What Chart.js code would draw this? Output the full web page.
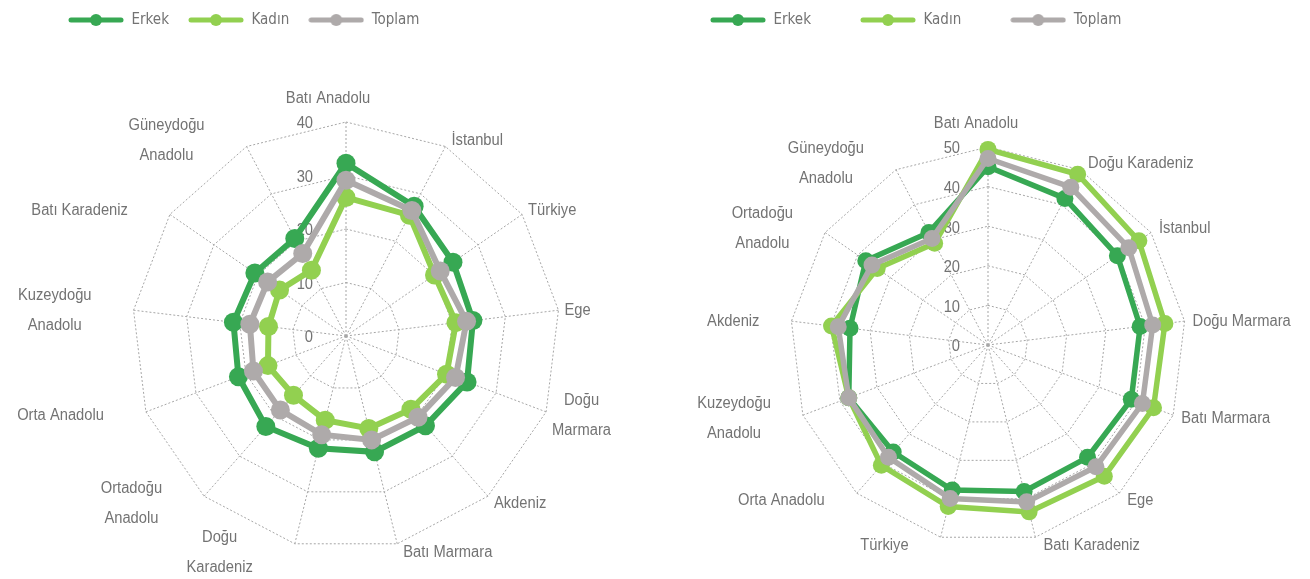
<!DOCTYPE html>
<html lang="tr">
<head>
<meta charset="UTF-8">
<title>Erkek / Kadın / Toplam</title>
<script src="https://cdn.jsdelivr.net/npm/chart.js"></script>
<style>
    body { margin: 0; background: #fff; }
    .wrap { display: flex; width: 1310px; height: 579px; }
    .box { position: relative; width: 655px; height: 579px; }
</style>
</head>
<body>
<div class="wrap">
    <div class="box"><canvas id="leftChart"></canvas></div>
    <div class="box"><canvas id="rightChart"></canvas></div>
</div>
<script>
    // sol grafik
    const leftLabels = ['Batı Anadolu', 'İstanbul', 'Türkiye', 'Ege', ['Doğu', 'Marmara'], 'Akdeniz', 'Batı Marmara',
        ['Doğu', 'Karadeniz'], ['Ortadoğu', 'Anadolu'], 'Orta Anadolu', ['Kuzeydoğu', 'Anadolu'], 'Batı Karadeniz',
        ['Güneydoğu', 'Anadolu']];
    const leftErkek = [32.3, 27.4, 24.3, 23.9, 24.2, 22.4, 22.3, 21.6, 22.6, 21.5, 21.2, 20.7, 20.6];
    const leftKadin = [25.9, 25.5, 20.1, 20.7, 20.1, 18.3, 17.8, 16.2, 14.8, 15.6, 14.6, 15.1, 13.9];
    const leftToplam = [29.1, 26.5, 21.4, 22.7, 21.9, 20.3, 20.0, 19.0, 18.5, 18.5, 18.1, 17.8, 17.4];
    const leftTicks = [0, 10, 20, 30, 40];

    // sağ grafik
    const rightLabels = ['Batı Anadolu', 'Doğu Karadeniz', 'İstanbul', 'Doğu Marmara', 'Batı Marmara', 'Ege',
        'Batı Karadeniz', 'Türkiye', 'Orta Anadolu', ['Kuzeydoğu', 'Anadolu'], 'Akdeniz', ['Ortadoğu', 'Anadolu'],
        ['Güneydoğu', 'Anadolu']];
    const rightErkek = [45.0, 41.8, 39.7, 38.7, 38.7, 37.9, 38.1, 37.7, 36.1, 37.6, 35.1, 37.5, 32.1];
    const rightKadin = [49.4, 48.7, 46.3, 45.0, 44.7, 44.3, 43.4, 42.0, 40.6, 37.6, 39.8, 34.0, 29.0];
    const rightToplam = [47.1, 45.0, 43.2, 41.9, 41.7, 41.1, 40.8, 39.9, 37.9, 37.6, 38.1, 35.6, 30.4];
    const rightTicks = [0, 10, 20, 30, 40, 50];

    const seriesNames = ['Erkek', 'Kadın', 'Toplam'];
    const seriesColors = ['#37a853', '#92d050', '#aeaaaa'];
    const textColor = '#737373';
    const gridColor = '#a6a6a6';
    const legendFont = '"DejaVu Sans Condensed", "Liberation Sans", sans-serif';
    const labelFont = '16px "Liberation Sans", Arial, sans-serif';
    const squeeze = 0.92; // dar yazı görünümü için

    // legend ikonu: çizgi + nokta
    function legendIcon(color) {
        const c = document.createElement('canvas');
        c.width = 56;
        c.height = 14;
        const g = c.getContext('2d');
        g.strokeStyle = color;
        g.lineWidth = 5;
        g.lineCap = 'round';
        g.beginPath();
        g.moveTo(3, 7);
        g.lineTo(53, 7);
        g.stroke();
        g.fillStyle = color;
        g.beginPath();
        g.arc(28, 7, 6, 0, Math.PI * 2);
        g.fill();
        return c;
    }

    // eksen merkezi / yarıçap ve legend yeri
    const placePlugin = {
        id: 'place',
        afterLayout(chart) {
            const o = chart.options.place;
            const r = chart.scales.r;
            r.xCenter = o.cx;
            r.yCenter = o.cy;
            r.drawingArea = o.radius;
            const lg = chart.legend;
            const p = lg.options.labels.padding;
            const fs = lg.options.labels.font.size;
            const w = lg.right - lg.left, h = lg.bottom - lg.top;
            lg.left = o.legendX - p;
            lg.right = lg.left + w;
            lg.top = o.legendY - p - fs / 2;
            lg.bottom = lg.top + h;
        }
    };

    function narrowText(ctx, t, x, y) {
        ctx.save();
        ctx.translate(x, y);
        ctx.scale(squeeze, 1);
        ctx.fillText(t, 0, 0);
        ctx.restore();
    }

    // tick ve kategori etiketleri
    const textPlugin = {
        id: 'texts',
        beforeDatasetsDraw(chart) {
            const o = chart.options.place;
            const r = chart.scales.r;
            const ctx = chart.ctx;
            ctx.save();
            ctx.fillStyle = textColor;
            ctx.font = labelFont;
            ctx.textAlign = 'right';
            ctx.textBaseline = 'middle';
            o.ticks.forEach(function (v) {
                const d = r.getDistanceFromCenterForValue(v);
                narrowText(ctx, String(v), r.xCenter - o.tickGap, r.yCenter - d + 2);
            });

            ctx.textAlign = 'center';
            const lh = 30;
            chart.data.labels.forEach(function (lab, i) {
                const lines = Array.isArray(lab) ? lab : [lab];
                const p = r.getPointPosition(i, r.drawingArea);
                const s = (p.x - r.xCenter) / r.drawingArea;
                const c = (r.yCenter - p.y) / r.drawingArea;
                let w = 0;
                lines.forEach(function (t) { w = Math.max(w, ctx.measureText(t).width * squeeze); });
                let x = p.x + (o.gapRight - o.gapLeft) / 2;
                if (s > 0.05) x = p.x + o.gapRight + w / 2;
                else if (s < -0.05) x = p.x - o.gapLeft - w / 2;
                let y = p.y - 8 * c + 1;
                if (Math.abs(s) <= 0.05 && c > 0) y -= 16;
                const h = lines.length * lh;
                lines.forEach(function (t, k) {
                    narrowText(ctx, t, x, y - h / 2 + lh * (k + 0.5));
                });
            });
            ctx.restore();
        }
    };

    function makeRadar(id, labels, erkek, kadin, toplam, max, place, legendPad, pointR, lineW) {
        const data = [erkek, kadin, toplam];
        return new Chart(document.getElementById(id), {
            type: 'radar',
            data: {
                labels: labels,
                datasets: seriesNames.map(function (name, i) {
                    return {
                        label: name,
                        data: data[i],
                        borderColor: seriesColors[i],
                        backgroundColor: seriesColors[i],
                        pointBackgroundColor: seriesColors[i],
                        pointBorderWidth: 0,
                        pointRadius: pointR,
                        pointHoverRadius: pointR,
                        borderWidth: lineW,
                        fill: false,
                        clip: false,
                        order: 2 - i
                    };
                })
            },
            options: {
                responsive: true,
                maintainAspectRatio: false,
                animation: false,
                place: place,
                plugins: {
                    legend: {
                        position: 'top',
                        align: 'start',
                        labels: {
                            usePointStyle: true,
                            pointStyleWidth: 56,
                            padding: legendPad,
                            color: textColor,
                            font: { family: legendFont, size: 15 },
                            sort: function (a, b) { return a.datasetIndex - b.datasetIndex; },
                            generateLabels: function (chart) {
                                const items = Chart.defaults.plugins.legend.labels.generateLabels(chart);
                                items.forEach(function (it) {
                                    it.pointStyle = legendIcon(seriesColors[it.datasetIndex]);
                                });
                                return items;
                            }
                        }
                    },
                    tooltip: { enabled: false }
                },
                scales: {
                    r: {
                        min: 0,
                        max: max,
                        ticks: { stepSize: 10, display: false },
                        grid: { color: gridColor, lineWidth: 1 },
                        border: { dash: [2, 2] },
                        angleLines: { color: gridColor, lineWidth: 1, borderDash: [2, 2] },
                        pointLabels: { display: false }
                    }
                }
            },
            plugins: [placePlugin, textPlugin]
        });
    }

    makeRadar('leftChart', leftLabels, leftErkek, leftKadin, leftToplam, 40,
        { cx: 346, cy: 336, radius: 214, ticks: leftTicks, tickGap: 33, legendX: 68, legendY: 20, gapLeft: 42, gapRight: 6 },
        19, 9.5, 6);
    makeRadar('rightChart', rightLabels, rightErkek, rightKadin, rightToplam, 50,
        { cx: 333, cy: 345, radius: 198, ticks: rightTicks, tickGap: 28, legendX: 55, legendY: 20, gapLeft: 32, gapRight: 8 },
        49, 8.5, 5.5);
</script>
</body>
</html>
